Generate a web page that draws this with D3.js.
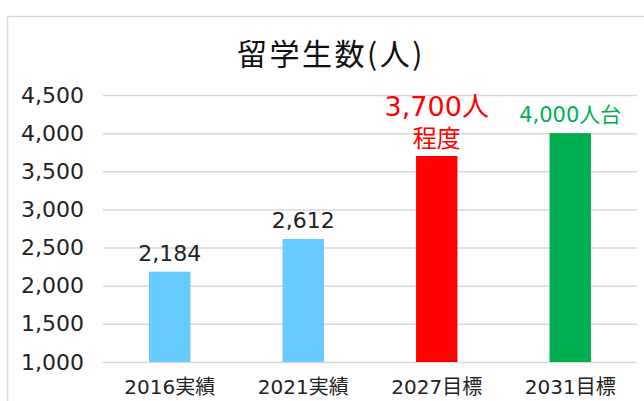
<!DOCTYPE html>
<html>
<head>
<meta charset="utf-8">
<script src="https://cdn.jsdelivr.net/npm/d3@7"></script>
<style>
  html, body { margin: 0; padding: 0; background: #fff; }
  svg { display: block; font-family: "DejaVu Sans", "Noto Sans CJK JP", sans-serif; }
</style>
</head>
<body>
<div id="chart"></div>
<script>
// ========================
// Data
// ========================
const categories = ["2016実績", "2021実績", "2027目標", "2031目標"];
const values = [2184, 2612, 3700, 4000];
const valueLabels = ["2,184", "2,612", "3,700人", "4,000人台"];
const subLabels = ["", "", "程度", ""];
const yTicks = [1000, 1500, 2000, 2500, 3000, 3500, 4000, 4500];

const barColors = ["#66CCFF", "#66CCFF", "#FF0000", "#00B050"];
const labelColors = ["#222", "#222", "#FF0000", "#00B050"];
const labelSizes = [22, 22, 27, 21];

// ========================
// Setup
// ========================
const width = 644, height = 401;
const margin = { top: 95, right: 7, bottom: 39, left: 103 };

const svg = d3.select("#chart").append("svg")
    .attr("width", width)
    .attr("height", height);

// outer frame
svg.append("rect")
    .attr("x", 7.5).attr("y", 16.5)
    .attr("width", 660).attr("height", 420)
    .attr("fill", "none")
    .attr("stroke", "#d9d9d9")
    .attr("stroke-width", 1.5);

const x = d3.scaleBand()
    .domain(categories)
    .range([margin.left, width - margin.right])
    .paddingInner(0.69)
    .paddingOuter(0.345);

const y = d3.scaleLinear()
    .domain([1000, 4500])
    .range([height - margin.bottom, margin.top]);

// title
svg.append("text")
    .attr("x", 331)
    .attr("y", 65)
    .attr("text-anchor", "middle")
    .style("font-size", "30px")
    .style("letter-spacing", "2.5px")
    .style("font-family", "'Noto Sans CJK JP', sans-serif")
    .attr("fill", "#111")
    .text("留学生数(人)");

// ========================
// Grid + y axis
// ========================
const yAxis = d3.axisLeft(y)
    .tickValues(yTicks)
    .tickFormat(d3.format(","))
    .tickSize(-(width - margin.right - margin.left))
    .tickPadding(19);

const gy = svg.append("g")
    .attr("transform", `translate(${margin.left},0)`)
    .call(yAxis);

gy.select(".domain").remove();
gy.selectAll(".tick line")
    .attr("stroke", "#d9d9d9")
    .attr("stroke-width", 1.5);
gy.selectAll(".tick text")
    .attr("fill", "#222")
    .style("font-size", "22px")
    .style("font-family", "'DejaVu Sans', sans-serif");

// ========================
// Bars
// ========================
svg.selectAll(".bar")
    .data(values)
    .enter()
    .append("rect")
    .attr("class", "bar")
    .attr("x", (d, i) => x(categories[i]))
    .attr("y", d => y(d))
    .attr("width", x.bandwidth())
    .attr("height", d => y(1000) - y(d))
    .attr("fill", (d, i) => barColors[i]);

// value labels
svg.selectAll(".val")
    .data(values)
    .enter()
    .append("text")
    .attr("class", "val")
    .attr("x", (d, i) => x(categories[i]) + x.bandwidth() / 2)
    .attr("y", (d, i) => y(d) - (subLabels[i] ? 40 : 11))
    .attr("text-anchor", "middle")
    .attr("fill", (d, i) => labelColors[i])
    .style("font-size", (d, i) => labelSizes[i] + "px")
    .text((d, i) => valueLabels[i]);

// second line under the value label (only where one exists)
svg.selectAll(".sub")
    .data(values.map((v, i) => ({ v, i })).filter(d => subLabels[d.i]))
    .enter()
    .append("text")
    .attr("class", "sub")
    .attr("x", d => x(categories[d.i]) + x.bandwidth() / 2)
    .attr("y", d => y(d.v) - 9)
    .attr("text-anchor", "middle")
    .attr("fill", d => labelColors[d.i])
    .style("font-size", "24px")
    .style("font-family", "'Noto Sans CJK JP', sans-serif")
    .text(d => subLabels[d.i]);

// ========================
// x axis labels
// ========================
svg.selectAll(".cat")
    .data(categories)
    .enter()
    .append("text")
    .attr("class", "cat")
    .attr("x", d => x(d) + x.bandwidth() / 2)
    .attr("y", 394)
    .attr("text-anchor", "middle")
    .attr("fill", "#222")
    .style("font-size", "20px")
    .text(d => d);
</script>
</body>
</html>
